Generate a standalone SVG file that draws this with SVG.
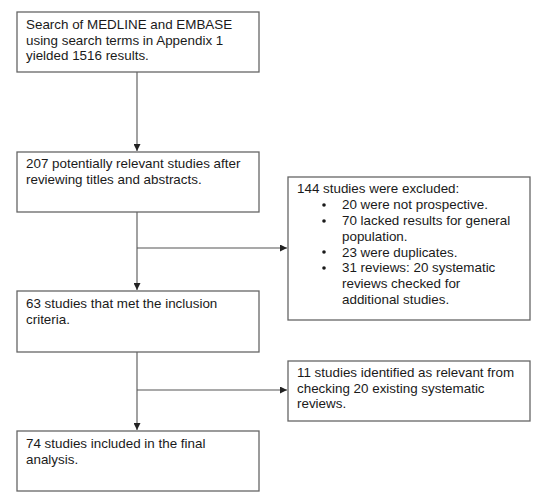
<svg xmlns="http://www.w3.org/2000/svg" width="550" height="494" viewBox="0 0 550 494">
<defs>
<marker id="ah" viewBox="0 0 10 10" refX="10" refY="5" markerWidth="7" markerHeight="7" markerUnits="userSpaceOnUse" orient="auto">
<path d="M0,0 L10,5 L0,10 z" fill="#222"/>
</marker>
<style>
.box{fill:#fff;stroke:#666;stroke-width:1.3}
.t{font-family:"Liberation Sans",Arial,sans-serif;font-size:13.4px;fill:#1a1a1a}
.c{fill:none;stroke:#555;stroke-width:1.1}
.b{fill:#1a1a1a}
</style>
</defs>
<rect width="550" height="494" fill="#fff"/>
<g id="connectors">
<line class="c" x1="137" y1="72" x2="137" y2="151" marker-end="url(#ah)"/>
<line class="c" x1="137" y1="212" x2="137" y2="290" marker-end="url(#ah)"/>
<line class="c" x1="137" y1="248" x2="287" y2="248" marker-end="url(#ah)"/>
<line class="c" x1="137" y1="352" x2="137" y2="430" marker-end="url(#ah)"/>
<line class="c" x1="137" y1="390" x2="287" y2="390" marker-end="url(#ah)"/>
</g>
<g id="search">
<rect class="box" x="17" y="12" width="242" height="60"/>
<text class="t" x="26" y="29">Search of MEDLINE and EMBASE</text>
<text class="t" x="26" y="44.5">using search terms in Appendix 1</text>
<text class="t" x="26" y="60">yielded 1516 results.</text>
</g>
<g id="relevant">
<rect class="box" x="17" y="152" width="242" height="60"/>
<text class="t" x="26" y="168">207 potentially relevant studies after</text>
<text class="t" x="26" y="183.5">reviewing titles and abstracts.</text>
</g>
<g id="excluded">
<rect class="box" x="288" y="177" width="242" height="143"/>
<text class="t" x="297" y="193">144 studies were excluded:</text>
<circle class="b" cx="324" cy="205" r="1.8"/>
<circle class="b" cx="324" cy="221" r="1.8"/>
<circle class="b" cx="324" cy="252" r="1.8"/>
<circle class="b" cx="324" cy="268" r="1.8"/>
<text class="t" x="342" y="209">20 were not prospective.</text>
<text class="t" x="342" y="225">70 lacked results for general</text>
<text class="t" x="342" y="240.5">population.</text>
<text class="t" x="342" y="256.5">23 were duplicates.</text>
<text class="t" x="342" y="272">31 reviews: 20 systematic</text>
<text class="t" x="342" y="288">reviews checked for</text>
<text class="t" x="342" y="303.5">additional studies.</text>
</g>
<g id="met">
<rect class="box" x="17" y="291" width="242" height="61"/>
<text class="t" x="26" y="308">63 studies that met the inclusion</text>
<text class="t" x="26" y="323.5">criteria.</text>
</g>
<g id="identified">
<rect class="box" x="288" y="361" width="242" height="60"/>
<text class="t" x="297" y="377">11 studies identified as relevant from</text>
<text class="t" x="297" y="392.5">checking 20 existing systematic</text>
<text class="t" x="297" y="408">reviews.</text>
</g>
<g id="included">
<rect class="box" x="17" y="431" width="242" height="60"/>
<text class="t" x="26" y="448">74 studies included in the final</text>
<text class="t" x="26" y="463.5">analysis.</text>
</g>
</svg>
